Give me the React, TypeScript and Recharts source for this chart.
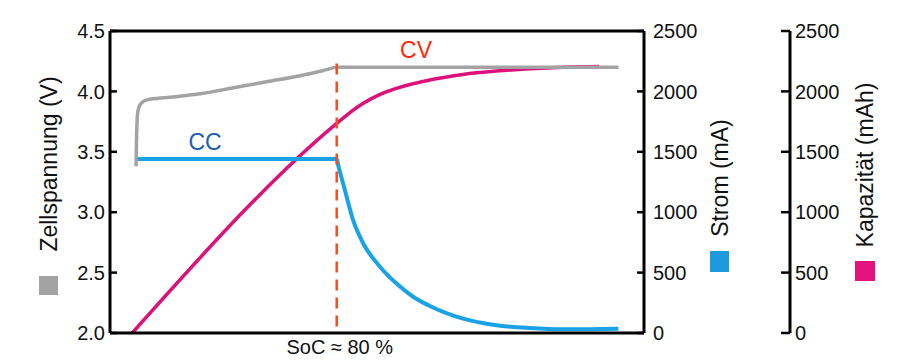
import React from 'react';
import { LineChart, Line, XAxis, YAxis, ReferenceLine, Customized } from 'recharts';

// time axis (arbitrary units, charge start = 0, end = 100)
const voltageTime = [0, 0.1, 0.25, 0.6, 1.3, 2.3, 6.5, 13.3, 20.2, 27.1, 34.0, 39.5, 41.6, 50, 60, 70, 80, 90, 100];
const voltageValues = [3.38, 3.6, 3.79, 3.87, 3.91, 3.93, 3.95, 3.98, 4.03, 4.08, 4.13, 4.18, 4.2, 4.2, 4.2, 4.2, 4.2, 4.2, 4.2];

const currentTime = [0, 10, 20, 30, 41.6, 41.9, 43.3, 45.0, 47.1, 50.6, 54.0, 57.5, 60.9, 67.8, 74.7, 81.6, 88.5, 94, 100];
const currentValues = [1440, 1440, 1440, 1440, 1440, 1390, 1182, 934, 741, 547, 409, 298, 224, 119, 64, 41, 31, 32, 35];

const capacityTime = [-0.8, 41.6, 43.7, 47.1, 50.6, 54.0, 60.9, 67.8, 74.7, 81.6, 88.5, 96];
const capacityValues = [0, 1735, 1804, 1901, 1975, 2025, 2094, 2140, 2168, 2187, 2200, 2206];

const cvStart = 41.6;
const dashTop = 4.23;

const voltageTicks = [2.0, 2.5, 3.0, 3.5, 4.0, 4.5];
const mATicks = [0, 500, 1000, 1500, 2000, 2500];
const xDomain = [-5.4, 105.3];

const FONT = '"Liberation Sans", Arial, Helvetica, sans-serif';
const GRAY = '#a3a3a3';
const BLUE = '#19a2e6';
const PINK = '#dd117a';
const BLUE_KEY = '#1b9bdb';
const PINK_KEY = '#e4127c';

const voltageData = voltageTime.map((t, i) => ({ t, v: voltageValues[i] }));
const currentData = currentTime.map((t, i) => ({ t, i: currentValues[i] }));
const capacityData = capacityTime.map((t, i) => ({ t, c: capacityValues[i] }));

const makeTick = (side: 'left' | 'right', margin: number, len: number, decimals: number) => (props: any) => {
  const { x, y, payload } = props;
  const axisX = side === 'left' ? x + margin : x - margin;
  const x2 = side === 'left' ? axisX + len : axisX - len;
  return (
    <g>
      <line x1={axisX} y1={y} x2={x2} y2={y} stroke="#000" strokeWidth={2.5} />
      <text
        x={x}
        y={y}
        dy="0.36em"
        textAnchor={side === 'left' ? 'end' : 'start'}
        fontFamily={FONT}
        fontSize={20}
        fill="#111"
      >
        {Number(payload.value).toFixed(decimals)}
      </text>
    </g>
  );
};

const Annotations = () => (
  <g fontFamily={FONT}>
    <text x={49} y={164} transform="rotate(-90 49 164)" textAnchor="middle" dy="0.35em" fontSize={23} fill="#111">
      Zellspannung (V)
    </text>
    <rect x={39} y={276} width={19} height={19} fill={GRAY} />
    <text x={720} y={178} transform="rotate(-90 720 178)" textAnchor="middle" dy="0.35em" fontSize={23} fill="#111">
      Strom (mA)
    </text>
    <rect x={710} y={251} width={19} height={21} fill={BLUE_KEY} />
    <text x={865} y={165} transform="rotate(-90 865 165)" textAnchor="middle" dy="0.35em" fontSize={23} fill="#111">
      Kapazität (mAh)
    </text>
    <rect x={855} y={261} width={20} height={20} fill={PINK_KEY} />
    <text x={205} y={150} textAnchor="middle" fontSize={23} fill="#1a5fb4">CC</text>
    <text x={416} y={58} textAnchor="middle" fontSize={23} fill="#ff2a0a">CV</text>
  </g>
);

export default function App() {
  return (
    <div style={{ position: 'absolute', left: 0, top: 0, width: 900, height: 360, background: '#fff' }}>
      <LineChart width={900} height={360} margin={{ top: 31, right: 10, bottom: 0, left: 0 }}>
        <XAxis
          dataKey="t"
          type="number"
          domain={xDomain}
          allowDataOverflow
          ticks={[cvStart]}
          tickFormatter={() => 'SoC ≈ 80 %'}
          tickLine={false}
          tickSize={0}
          tickMargin={7}
          height={27}
          axisLine={{ stroke: '#000', strokeWidth: 3 }}
          tick={{ fill: '#111', fontSize: 20, fontFamily: FONT, dx: 3 }}
        />
        <YAxis
          yAxisId="v"
          orientation="left"
          type="number"
          domain={[2, 4.5]}
          ticks={voltageTicks}
          width={110}
          tickSize={0}
          tickMargin={5}
          tickLine={false}
          axisLine={{ stroke: '#000', strokeWidth: 3 }}
          tick={makeTick('left', 5, 7, 1)}
          interval={0}
        />
        <YAxis
          yAxisId="a"
          orientation="right"
          type="number"
          domain={[0, 2500]}
          ticks={mATicks}
          width={146}
          tickSize={0}
          tickMargin={9}
          tickLine={false}
          axisLine={{ stroke: '#000', strokeWidth: 3 }}
          tick={makeTick('right', 9, 7, 0)}
          interval={0}
        />
        <YAxis
          yAxisId="b"
          orientation="right"
          type="number"
          domain={[0, 2500]}
          ticks={mATicks}
          width={100}
          tickSize={0}
          tickMargin={5}
          tickLine={false}
          axisLine={{ stroke: '#000', strokeWidth: 3 }}
          tick={makeTick('right', 5, 9, 0)}
          interval={0}
        />
        <ReferenceLine yAxisId="v" y={4.5} stroke="#000" strokeWidth={3} />
        <Line
          yAxisId="b"
          data={capacityData}
          dataKey="c"
          type="monotone"
          stroke={PINK}
          strokeWidth={3.5}
          dot={false}
          isAnimationActive={false}
        />
        <Line
          yAxisId="a"
          data={currentData}
          dataKey="i"
          type="monotone"
          stroke={BLUE}
          strokeWidth={4}
          dot={false}
          isAnimationActive={false}
        />
        <Line
          yAxisId="v"
          data={voltageData}
          dataKey="v"
          type="monotone"
          stroke={GRAY}
          strokeWidth={3.5}
          dot={false}
          isAnimationActive={false}
        />
        <ReferenceLine
          yAxisId="v"
          segment={[{ x: cvStart, y: dashTop }, { x: cvStart, y: 2.0 }]}
          stroke="#ff4a1c"
          strokeWidth={2.5}
          strokeDasharray="11 7"
        />
        <Customized component={Annotations} />
      </LineChart>
    </div>
  );
}
